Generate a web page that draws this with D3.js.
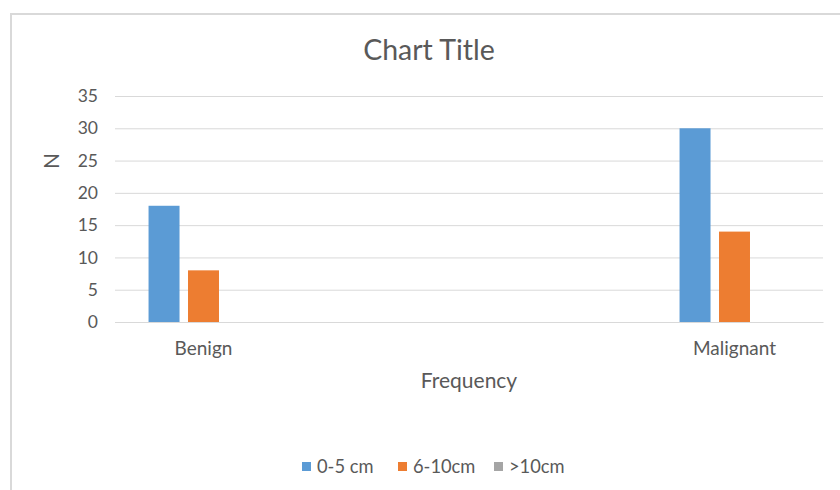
<!DOCTYPE html>
<html>
<head>
<meta charset="utf-8">
<script src="https://cdn.jsdelivr.net/npm/d3@7"></script>
<style>
  html, body { margin: 0; padding: 0; background: #ffffff; }
  svg { display: block; font-family: Lato, "Open Sans", sans-serif; }
</style>
</head>
<body>
<svg id="chart" width="840" height="490"></svg>
<script>
// Category slots on the x axis (the two middle rows of the sheet are blank)
const categories = ["Benign", "", "", "Malignant"];
const seriesNames = ["0-5 cm", "6-10cm", ">10cm"];
const series0to5 = [18, null, null, 30];
const series6to10 = [8, null, null, 14];
const seriesOver10 = [0, null, null, 0];
const seriesValues = [series0to5, series6to10, seriesOver10];
const yTicks = [0, 5, 10, 15, 20, 25, 30, 35];
const colors = ["#5b9bd5", "#ed7d31", "#a5a5a5"];

const svg = d3.select("#chart");
const textColor = "#595959";
const gridColor = "#d9d9d9";

// chart area frame
svg.append("rect")
  .attr("x", 11).attr("y", 14)
  .attr("width", 840).attr("height", 490)
  .attr("fill", "#ffffff")
  .attr("stroke", "#d9d9d9")
  .attr("stroke-width", 2);

const plot = { left: 115, right: 823, top: 96, bottom: 322 };

const x0 = d3.scaleBand()
  .domain(d3.range(categories.length))
  .range([plot.left, plot.right])
  .paddingInner(0).paddingOuter(0);

const x1 = d3.scaleBand()
  .domain(d3.range(seriesNames.length))
  .range([0, x0.bandwidth()])
  .paddingInner(0.215)
  .paddingOuter(0.85);

const y = d3.scaleLinear()
  .domain([0, 35])
  .range([plot.bottom, plot.top]);

// gridlines
const yAxis = d3.axisLeft(y)
  .tickValues(yTicks)
  .tickSize(-(plot.right - plot.left))
  .tickPadding(17);

const gy = svg.append("g")
  .attr("transform", `translate(${plot.left},0)`)
  .call(yAxis);
gy.select(".domain").remove();
gy.selectAll(".tick line").attr("stroke", gridColor).attr("stroke-width", 1);
gy.selectAll(".tick text")
  .attr("fill", textColor)
  .attr("font-size", "17.5px")
  .attr("font-family", "Lato, 'Open Sans', sans-serif");

// bars
const groups = svg.append("g")
  .selectAll("g")
  .data(d3.range(categories.length))
  .join("g")
  .attr("transform", i => `translate(${x0(i)},0)`);

groups.selectAll("rect")
  .data(i => seriesValues.map((vals, s) => ({ s, v: vals[i] })).filter(d => d.v != null && d.v > 0))
  .join("rect")
  .attr("x", d => x1(d.s))
  .attr("y", d => y(d.v))
  .attr("width", x1.bandwidth())
  .attr("height", d => y(0) - y(d.v))
  .attr("fill", d => colors[d.s]);

// category axis
const xAxis = d3.axisBottom(x0)
  .tickFormat(i => categories[i])
  .tickSize(0)
  .tickPadding(20);
const gx = svg.append("g")
  .attr("transform", `translate(0,${plot.bottom})`)
  .call(xAxis);
gx.select(".domain").attr("stroke", gridColor);
gx.selectAll(".tick text")
  .attr("fill", textColor)
  .attr("font-size", "19px")
  .attr("font-family", "Lato, 'Open Sans', sans-serif");

// title
svg.append("text")
  .attr("x", 429).attr("y", 60)
  .attr("text-anchor", "middle")
  .attr("fill", textColor)
  .attr("font-size", "28.5px")
  .text("Chart Title");

// axis titles
svg.append("text")
  .attr("x", (plot.left + plot.right) / 2).attr("y", 388)
  .attr("text-anchor", "middle")
  .attr("fill", textColor)
  .attr("font-size", "21px")
  .text("Frequency");

svg.append("text")
  .attr("transform", "translate(59,161) rotate(-90)")
  .attr("text-anchor", "middle")
  .attr("fill", textColor)
  .attr("font-size", "21px")
  .text("N");

// legend
const legendItems = [
  { name: seriesNames[0], x: 302 },
  { name: seriesNames[1], x: 398 },
  { name: seriesNames[2], x: 494 }
];
const legend = svg.append("g");
legend.selectAll("rect")
  .data(legendItems)
  .join("rect")
  .attr("x", d => d.x).attr("y", 462)
  .attr("width", 9).attr("height", 9)
  .attr("fill", (d, i) => colors[i]);
legend.selectAll("text")
  .data(legendItems)
  .join("text")
  .attr("x", d => d.x + 15).attr("y", 473)
  .attr("fill", textColor)
  .attr("font-size", "18.3px")
  .text(d => d.name);
</script>
</body>
</html>
